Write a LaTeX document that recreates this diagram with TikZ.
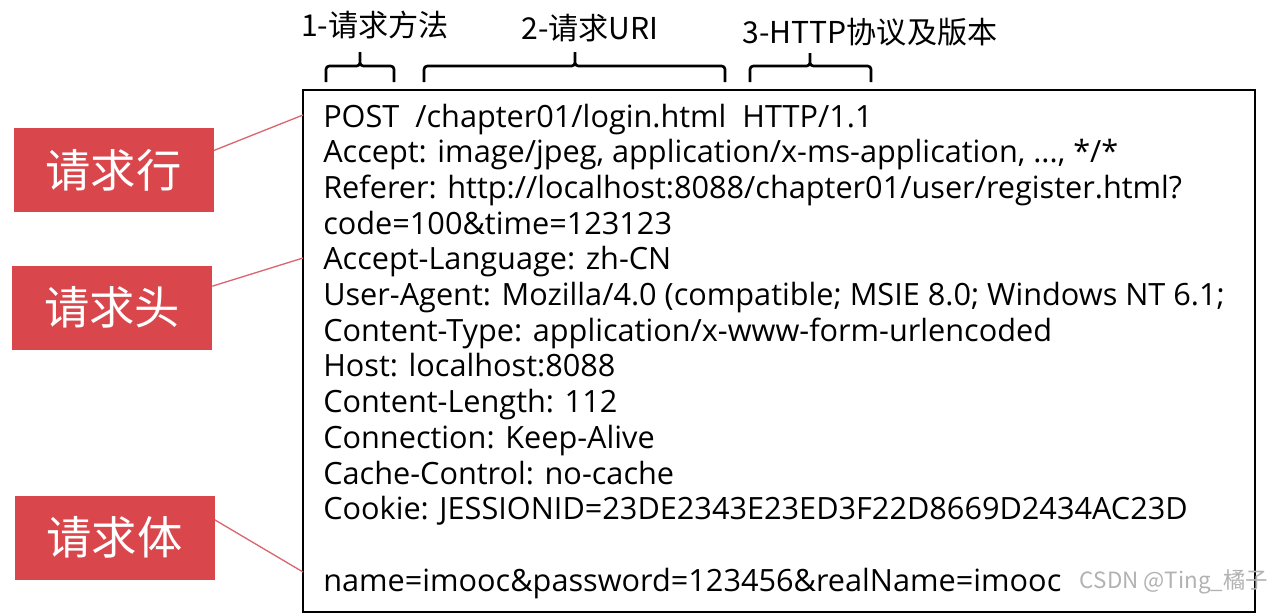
\documentclass[tikz,border=0pt]{standalone}
\usepackage{fontspec}
\setmainfont{Open Sans}
\newfontfamily\cjk{Noto Sans CJK SC}
\usetikzlibrary{positioning}
\definecolor{tagred}{HTML}{D9464B}
\definecolor{linkred}{HTML}{DB6670}

\begin{document}
\begin{tikzpicture}[x=0.75pt,y=-0.75pt,
  part/.style={fill=tagred,text=white,minimum width=150pt,minimum height=63pt,
    inner sep=0pt,font=\cjk\fontsize{34}{34}\selectfont},
  link/.style={draw=linkred,line width=1pt},
  brace/.style={line width=2pt,rounded corners=2.5pt},
  caption/.style={inner sep=0pt,font=\cjk\fontsize{22.6}{22.6}\selectfont},
  code/.style={anchor=base west,inner sep=0pt,font=\fontsize{23}{23}\selectfont}]
\useasboundingbox (0,0) rectangle (1274,615);

% message box
\draw[line width=1.5pt] (303,90) coordinate (boxnw) rectangle (1255,612) coordinate (boxse);
\coordinate (rowend)  at (303,115);
\coordinate (headend) at (303,258);
\coordinate (bodyend) at (303,572);

% the three parts
\node[part] (row)  at (113.5,170) {请求行};
\node[part] (head) at (112,307.5) {请求头};
\node[part] (body) at (114.5,537.5) {请求体};

\draw[link] (row.11)  -- (rowend);
\draw[link] (head.12) -- (headend);
\draw[link] (body.10) -- (bodyend);

% request text, one line every 35.7px
\node[code] (line1)  at (323,127.0) {POST\ \ /chapter01/login.html\ \ HTTP/1.1};
\node[code] (line2)  at (323,162.7) {Accept: image/jpeg, application/x-ms-application, ..., */*};
\node[code] (line3)  at (323,198.4) {Referer: http://localhost:8088/chapter01/user/register.html?};
\node[code] (line4)  at (323,234.1) {code=100\&time=123123};
\node[code] (line5)  at (323,269.8) {Accept-Language: zh-CN};
\node[code] (line6)  at (323,305.5) {User-Agent: Mozilla/4.0 (compatible; MSIE 8.0; Windows NT 6.1;};
\node[code] (line7)  at (323,341.2) {Content-Type: application/x-www-form-urlencoded};
\node[code] (line8)  at (323,376.9) {Host: localhost:8088};
\node[code] (line9)  at (323,412.6) {Content-Length: 112};
\node[code] (line10) at (323,448.3) {Connection: Keep-Alive};
\node[code] (line11) at (323,484.0) {Cache-Control: no-cache};
\node[code] (line12) at (323,519.7) {Cookie: JESSIONID=23DE2343E23ED3F22D8669D2434AC23D};
\node[code] (line13) at (323,591.1) {name=imooc\&password=123456\&realName=imooc};

% braces over the request line
\coordinate (m1) at (360,52);
\coordinate (m2) at (575,52);
\coordinate (m3) at (810,53);
\draw[brace] (326,82) |- (m1 |- 0,66) -- (m1) (394,82) |- (m1 |- 0,66) -- (m1);
\draw[brace] (424,82) |- (m2 |- 0,66) -- (m2) (725,82) |- (m2 |- 0,66) -- (m2);
\draw[brace] (750,82) |- (m3 |- 0,66) -- (m3) (871,82) |- (m3 |- 0,66) -- (m3);

\node[caption] (method)  at (375,25) {1-请求方法};
\node[caption] (uri)     at (590,28) {2-请求URI};
\node[caption] (version) at (870,32) {3-HTTP协议及版本};

\node[inner sep=0pt,text=black!30,font=\cjk\fontsize{16.8}{16.8}\selectfont] (mark) at (1174,582) {CSDN @Ting\_橘子};
\end{tikzpicture}
\end{document}
